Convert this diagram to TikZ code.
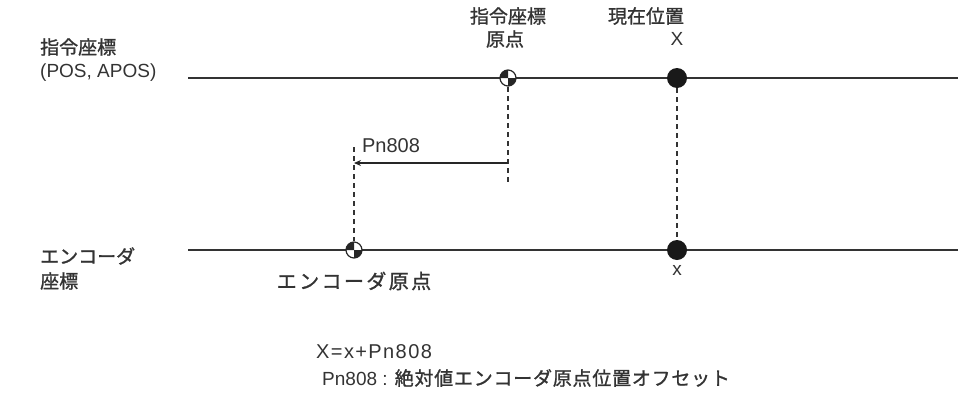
\documentclass[tikz,border=0pt]{standalone}
\usepackage{fontspec}
\setmainfont{Liberation Sans}
\newfontfamily\jp[FakeBold=1.2]{Noto Sans CJK JP}
\usetikzlibrary{arrows.meta}
\newcommand\cogsym[1]{%
  \fill[white] (#1) circle[radius=8];
  \fill[black!85] (#1) -- ++(-8,0) arc[start angle=180,end angle=270,radius=8] -- cycle;
  \fill[black!85] (#1) -- ++(8,0) arc[start angle=0,end angle=90,radius=8] -- cycle;
  \draw[line width=1.2pt,black!85] (#1) circle[radius=8];}
\begin{document}
\begin{tikzpicture}[x=1pt,y=-1pt,
  txt/.style={inner sep=0pt, text=black!80, font=\fontsize{19}{23}\selectfont},
  axis/.style={line width=1.5pt, black!80},
  guide/.style={line width=1.2pt, dash pattern=on 5pt off 4pt, black!80},
  dot/.style={circle, fill=black!90, minimum size=20pt, inner sep=0pt},
  arr/.style={line width=1.1pt, black!85, -{Stealth[length=7pt,width=6pt]}},
]
\useasboundingbox (0,0) rectangle (958,407);
% axes
\coordinate (tl0) at (188,78); \coordinate (tl1) at (958,78);
\coordinate (bl0) at (188,250); \coordinate (bl1) at (958,250);
\draw[axis] (tl0) -- (tl1);
\draw[axis] (bl0) -- (bl1);
% points
\coordinate (co) at (508,78);
\coordinate (eo) at (354,250);
\node[dot] (cX) at (677,78) {};
\node[dot] (cx) at (677,250) {};
% guides
\coordinate (coEnd) at (508,183);
\coordinate (eoTop) at (354,147);
\draw[guide] ([yshift=-9pt]co) -- (coEnd);
\draw[guide] (eoTop) -- ([yshift=9pt]eo);
\draw[guide] (cX) -- (cx);
\cogsym{co}
\cogsym{eo}
% arrow
\coordinate (aS) at (508,163); \coordinate (aE) at (354,163);
\draw[arr] (aS) -- (aE);
\node[txt, font=\fontsize{20}{24}\selectfont] (pn) at (391,146) {Pn808};
% labels
\node[txt, anchor=west] (lcmd) at (40,47) {\jp 指令座標};
\node[txt, anchor=west] (lpos) at (40,73) {(POS, APOS)};
\node[txt, anchor=west] (lenc) at (40,256) {\jp エンコーダ};
\node[txt, anchor=west] (lenc2) at (40,281) {\jp 座標};
\node[txt] (tcmd) at (508,16) {\jp 指令座標};
\node[txt] (torg) at (505,39) {\jp 原点};
\node[txt] (tcur) at (646,16) {\jp 現在位置};
\node[txt] (tX) at (677,39) {X};
\node[txt] (tx) at (677,270) {x};
\node[txt, font=\fontsize{20}{24}\selectfont] (tencorg) at (354,281) {\jp\addfontfeature{LetterSpace=12}エンコーダ原点};
\node[txt, anchor=west, font=\fontsize{20}{24}\selectfont] (eq) at (316,352) {\addfontfeature{LetterSpace=7}X=x+Pn808};
\node[txt, anchor=west] (def) at (322,378) {Pn808 : {\jp\addfontfeature{LetterSpace=4}絶対値エンコーダ原点位置オフセット}};
\end{tikzpicture}
\end{document}
